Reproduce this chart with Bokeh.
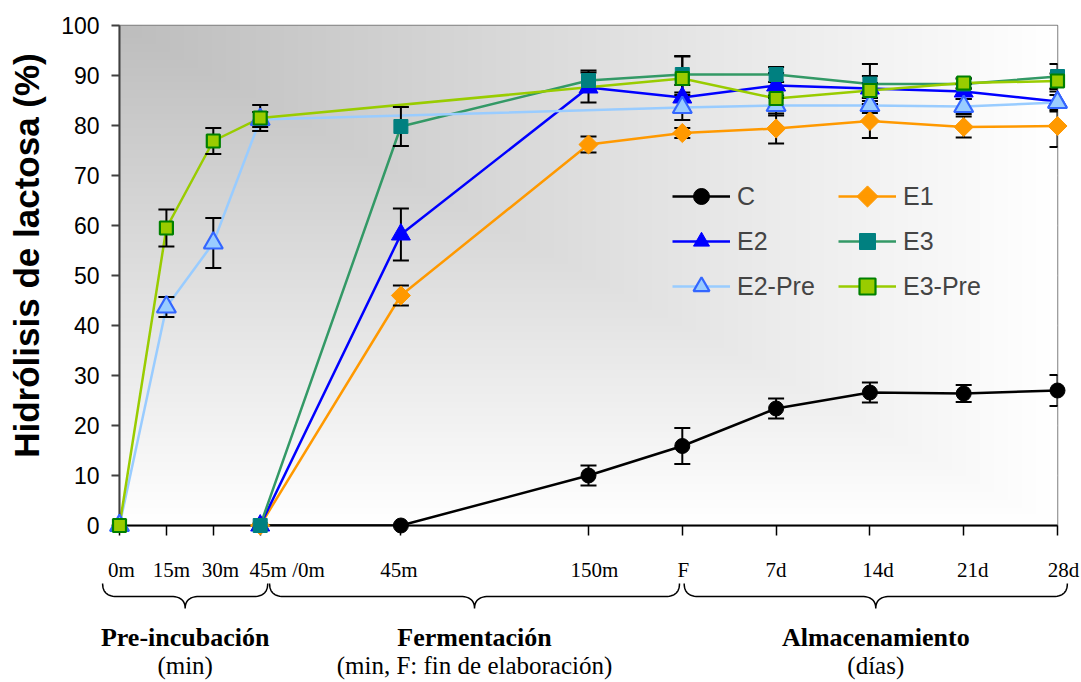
import numpy as np
from bokeh.plotting import figure
from bokeh.models import (ColumnDataSource, FixedTicker, Range1d, Whisker,
                          TeeHead, Legend, LegendItem)
from bokeh.core.properties import value
from bokeh.embed import file_html
from bokeh.resources import INLINE

# --- time axis: tick positions and their labels ------------------------------
tick_pos = [0, 1, 2, 3, 6, 10, 12, 14, 16, 18, 20]
tick_labels = ["0m", "15m", "30m", "45m /0m", "45m", "150m", "F",
               "7d", "14d", "21d", "28d"]
tick_label_shift = [2, 5, 7, 27, -2, 6, 1, 0, 8, 9, 6]   # px nudge per label

# sampling points of each group of series
x_fer = [3, 6, 10, 12, 14, 16, 18, 20]          # fermentation + storage
x_pre = [0, 1, 2, 3, 12, 14, 16, 18, 20]        # pre-incubated enzyme

# --- lactose hydrolysis (%) and standard deviation ---------------------------
c_val = [0, 0, 10.0, 15.9, 23.4, 26.6, 26.4, 27.0]
c_err = [0, 0, 2.0, 3.6, 2.0, 2.0, 1.7, 3.1]
e1_val = [0, 46.0, 76.2, 78.5, 79.4, 80.9, 79.7, 79.9]
e1_err = [0, 2.0, 1.6, 1.0, 3.0, 3.4, 2.1, 4.2]
e2_val = [0, 58.2, 87.6, 85.6, 88.0, 87.4, 86.8, 84.8]
e2_err = [0, 5.2, 3.0, 2.5, 2.5, 2.5, 1.5, 2.0]
e3_val = [0, 79.8, 89.0, 90.2, 90.2, 88.3, 88.3, 89.8]
e3_err = [0, 3.9, 2.0, 3.6, 1.5, 4.0, 1.0, 2.5]
e2p_val = [0, 43.7, 56.5, 81.2, 83.6, 84.0, 84.0, 83.8, 84.6]
e2p_err = [0, 2.0, 5.0, 1.5, 2.5, 2.0, 1.5, 1.5, 1.5]
e3p_val = [0, 59.5, 76.9, 81.5, 89.4, 85.4, 87.0, 88.5, 88.9]
e3p_err = [0, 3.7, 2.6, 2.6, 4.5, 2.0, 1.5, 1.0, 1.5]

# --- stages shown under the axis --------------------------------------------
stage_names = ["Pre-incubación", "Fermentación", "Almacenamiento"]
stage_units = ["(min)", "(min, F: fin de elaboración)", "(días)"]
brace_spans = [(-0.36, 3.16), (3.2, 11.94), (12.04, 20.21)]

y_title = "Hidrólisis de lactosa (%)"

series = [
    ("C", x_fer, c_val, c_err,
     dict(line="#000000", marker="circle", size=15, fill="#000000",
          edge="#000000", edge_w=1, angle=0.0)),
    ("E1", x_fer, e1_val, e1_err,
     dict(line="#FF9900", marker="square", size=13.5, fill="#FF9900",
          edge="#FF9900", edge_w=1, angle=np.pi / 4)),
    ("E2", x_fer, e2_val, e2_err,
     dict(line="#0000FF", marker="triangle", size=19, fill="#0000FF",
          edge="#0000FF", edge_w=1, angle=0.0)),
    ("E3", x_fer, e3_val, e3_err,
     dict(line="#339966", marker="square", size=14, fill="#008080",
          edge="#008080", edge_w=1, angle=0.0)),
    ("E2-Pre", x_pre, e2p_val, e2p_err,
     dict(line="#99CCFF", marker="triangle", size=19, fill="#99CCFF",
          edge="#3366FF", edge_w=2.2, angle=0.0)),
    ("E3-Pre", x_pre, e3p_val, e3p_err,
     dict(line="#99CC00", marker="square", size=13, fill="#99CC00",
          edge="#008000", edge_w=2.2, angle=0.0)),
]

FRAME_W, FRAME_H = 938, 500
X0, X1 = 0, 20
px_per_x = FRAME_W / (X1 - X0)
px_per_y = FRAME_H / 100

p = figure(frame_width=FRAME_W, frame_height=FRAME_H,
           x_range=Range1d(X0, X1), y_range=Range1d(0, 100),
           min_border_left=119, min_border_right=24,
           min_border_top=25, min_border_bottom=157,
           output_backend="svg", toolbar_location=None,
           background_fill_color="white", border_fill_color="white")

# plot-area shading: grey in the upper-left corner fading to white
H, W = 250, 469
u = (np.arange(W) + 0.5) / W
v = 1.0 - (np.arange(H) + 0.5) / H
t = np.maximum(u[None, :], v[:, None])
g = np.round(189 + 66 * t).astype(np.uint32)
shade = (np.uint32(255) << 24) | (g << 16) | (g << 8) | g
p.image_rgba(image=[shade], x=X0, y=0, dw=X1 - X0, dh=100)

# grid
p.xgrid.visible = False
p.ygrid.ticker = FixedTicker(ticks=list(range(10, 100, 10)))
p.ygrid.grid_line_color = "#bdbdbd"
p.ygrid.grid_line_width = 1.5
p.ygrid.grid_line_dash = "46 16"

p.outline_line_color = "#7f7f7f"
p.outline_line_width = 1.5

# y axis
p.yaxis.ticker = FixedTicker(ticks=list(range(0, 101, 10)))
p.yaxis.axis_line_color = "#404040"
p.yaxis.axis_line_width = 2
p.yaxis.major_tick_out = 8
p.yaxis.major_tick_in = 0
p.yaxis.major_tick_line_color = "#404040"
p.yaxis.major_tick_line_width = 2
p.yaxis.minor_tick_line_color = None
p.yaxis.major_label_text_font = "Liberation Sans"
p.yaxis.major_label_text_font_size = "23px"
p.yaxis.major_label_text_color = "black"
p.yaxis.major_label_standoff = 12

# x axis: line and tick marks only, labels are placed below as text
p.xaxis.ticker = FixedTicker(ticks=tick_pos)
p.xaxis.axis_line_color = "black"
p.xaxis.axis_line_width = 2
p.xaxis.major_tick_out = 10
p.xaxis.major_tick_in = 0
p.xaxis.major_tick_line_color = "black"
p.xaxis.major_tick_line_width = 1.5
p.xaxis.minor_tick_line_color = None
p.xaxis.major_label_text_color = None

legend_items = []
for name, xs, ys, errs, st in series:
    src = ColumnDataSource(dict(x=xs, y=ys))
    ln = p.line("x", "y", source=src, line_color=st["line"], line_width=2.5)

    keep = [i for i, e in enumerate(errs) if e > 0]
    wsrc = ColumnDataSource(dict(
        x=[xs[i] for i in keep],
        upper=[ys[i] + errs[i] for i in keep],
        lower=[ys[i] - errs[i] for i in keep]))
    p.add_layout(Whisker(
        source=wsrc, base="x", upper="upper", lower="lower",
        level="annotation", line_color="black", line_width=2,
        upper_head=TeeHead(size=16, line_color="black", line_width=2),
        lower_head=TeeHead(size=16, line_color="black", line_width=2)))

    sc = p.scatter("x", "y", source=src, marker=st["marker"], size=st["size"],
                   angle=st["angle"], fill_color=st["fill"],
                   line_color=st["edge"], line_width=st["edge_w"],
                   level="overlay")
    # legend keys are drawn unrotated, so a rotated marker gets its own key
    key = [ln] if st["angle"] else [ln, sc]
    legend_items.append((LegendItem(label=name, renderers=key), st))

# legend geometry (pixels)
LEG_X, LEG_Y = 553, 219            # bottom-left corner, from the frame's corner
GLYPH_W, GLYPH_H, STANDOFF, LABEL_W, SPACING = 58, 40, 7, 96, 5
legend = Legend(items=[it for it, _ in legend_items], location=(LEG_X, LEG_Y),
                orientation="horizontal", ncols=2,
                glyph_width=GLYPH_W, glyph_height=GLYPH_H,
                label_standoff=STANDOFF, label_width=LABEL_W,
                spacing=SPACING, padding=0, margin=0,
                border_line_color=None, background_fill_alpha=0,
                label_text_font="Liberation Sans",
                label_text_font_size="25px")
p.add_layout(legend)

# rotated legend key placed on its legend cell
nrows = (len(legend_items) + 1) // 2
leg_h = nrows * GLYPH_H + (nrows - 1) * SPACING
col_w = GLYPH_W + STANDOFF + LABEL_W + SPACING
for i, (it, st) in enumerate(legend_items):
    if not st["angle"]:
        continue
    row, col = divmod(i, 2)
    kx_px = LEG_X + col * col_w + GLYPH_W / 2
    ky_px = LEG_Y + leg_h - row * (GLYPH_H + SPACING) - GLYPH_H / 2
    p.scatter(x=[X0 + kx_px / px_per_x], y=[ky_px / px_per_y],
              marker=st["marker"], size=st["size"] + 1.5, angle=st["angle"],
              fill_color=st["fill"], line_color=st["edge"],
              line_width=st["edge_w"], level="overlay")

# tick labels of the time axis
lab_x = [tp + s / px_per_x for tp, s in zip(tick_pos, tick_label_shift)]
p.text(x=lab_x, y=[-8.8] * len(tick_labels), text=tick_labels,
       text_font=value("Liberation Serif"), text_font_size="21px",
       text_align="center", text_baseline="middle", text_color="black",
       level="overlay")

# y axis title
p.text(x=[X0 - 93 / px_per_x], y=[54], text=[y_title], angle=np.pi / 2,
       text_font=value("Liberation Sans"), text_font_style="bold",
       text_font_size="35px", text_align="center", text_baseline="middle",
       text_color="black", level="overlay")


def brace(x0, x1, y_end=-11.6, y_bar=-14.2, y_tip=-16.6, r=0.3, n=14):
    """Curly brace opening upwards between x0 and x1."""
    m = (x0 + x1) / 2
    tt = np.linspace(0, 1, n)

    def quad(a, c, b):
        return ((1 - tt) ** 2 * a[0] + 2 * (1 - tt) * tt * c[0] + tt ** 2 * b[0],
                (1 - tt) ** 2 * a[1] + 2 * (1 - tt) * tt * c[1] + tt ** 2 * b[1])

    parts = [quad((x0, y_end), (x0, y_bar), (x0 + r, y_bar)),
             quad((m - r, y_bar), (m, y_bar), (m, y_tip)),
             quad((m, y_tip), (m, y_bar), (m + r, y_bar)),
             quad((x1 - r, y_bar), (x1, y_bar), (x1, y_end))]
    bx = np.concatenate([q[0] for q in parts])
    by = np.concatenate([q[1] for q in parts])
    return list(bx), list(by)


bxs, bys = zip(*[brace(a, b) for a, b in brace_spans])
p.multi_line(xs=list(bxs), ys=list(bys), line_color="black", line_width=1.5,
             level="overlay")

mids = [(a + b) / 2 for a, b in brace_spans]
p.text(x=mids, y=[-22.4] * 3, text=stage_names,
       text_font=value("Liberation Serif"), text_font_style="bold",
       text_font_size="26px", text_align="center", text_baseline="middle",
       text_color="black", level="overlay")
p.text(x=mids, y=[-28.0] * 3, text=stage_units,
       text_font=value("Liberation Serif"), text_font_size="25px",
       text_align="center", text_baseline="middle", text_color="black",
       level="overlay")

open("out.html", "w").write(file_html(p, INLINE))
